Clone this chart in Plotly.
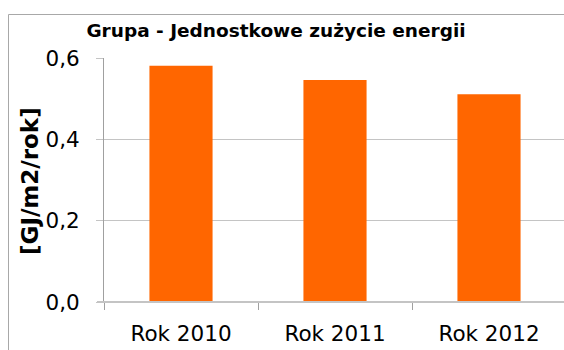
import plotly.graph_objects as go

# Unit energy consumption of the group, per year
categories = ["Rok 2010", "Rok 2011", "Rok 2012"]
values = [0.581, 0.546, 0.511]
y_ticks = [0.0, 0.2, 0.4, 0.6]
y_tick_labels = ["0,0", "0,2", "0,4", "0,6"]

W, H = 564, 350
ML, MR, MT, MB = 104, 0, 58, 48
plot_w = W - ML - MR
plot_h = H - MT - MB


def px_to_paper_x(px):
    return (px - ML) / plot_w


def px_to_paper_y(py):
    return (H - MB - py) / plot_h


fig = go.Figure(
    go.Bar(
        x=categories,
        y=values,
        width=0.41,
        marker=dict(color="#FF6600", line=dict(width=0)),
    )
)

frame = dict(color="#a8a8a8", width=1)

fig.update_layout(
    width=W,
    height=H,
    margin=dict(l=ML, r=MR, t=MT, b=MB),
    paper_bgcolor="white",
    plot_bgcolor="white",
    showlegend=False,
    font=dict(family="DejaVu Sans", color="#000000"),
    title=dict(
        text="<b>Grupa - Jednostkowe zużycie energii</b>",
        font=dict(family="DejaVu Sans", size=18.5, color="#000000"),
        x=276 / W,
        xanchor="center",
        xref="container",
        y=1 - 31 / H,
        yanchor="middle",
        yref="container",
    ),
    xaxis=dict(
        range=[-0.5, -0.5 + plot_w / 154],
        showgrid=False,
        showline=False,
        zeroline=False,
        ticks="outside",
        tickson="boundaries",
        ticklen=7,
        tickcolor="#a0a0a0",
        tickfont=dict(size=21.5, family="DejaVu Sans", color="#000000"),
        ticklabelstandoff=16,
    ),
    yaxis=dict(
        range=[0, 0.6],
        tickvals=y_ticks,
        ticktext=y_tick_labels,
        showgrid=True,
        gridcolor="#c4c4c4",
        gridwidth=1,
        zeroline=False,
        showline=True,
        linecolor="#a0a0a0",
        linewidth=1,
        ticks="outside",
        ticklen=7,
        tickcolor="#c4c4c4",
        tickfont=dict(size=21.5, family="DejaVu Sans", color="#000000"),
        ticklabelstandoff=12,
    ),
    annotations=[
        dict(
            text="<b>[GJ/m2/rok]</b>",
            textangle=-90,
            x=px_to_paper_x(30),
            y=px_to_paper_y(181),
            xref="paper",
            yref="paper",
            showarrow=False,
            xanchor="center",
            yanchor="middle",
            font=dict(family="DejaVu Sans", size=23, color="#000000"),
        )
    ],
    shapes=[
        # outer chart frame: top and left edges (the rest runs past the page)
        dict(
            type="line",
            xref="paper",
            yref="paper",
            x0=px_to_paper_x(8.5),
            x1=px_to_paper_x(580),
            y0=px_to_paper_y(14.5),
            y1=px_to_paper_y(14.5),
            line=frame,
            layer="below",
        ),
        dict(
            type="line",
            xref="paper",
            yref="paper",
            x0=px_to_paper_x(8.5),
            x1=px_to_paper_x(8.5),
            y0=px_to_paper_y(14.5),
            y1=px_to_paper_y(360),
            line=frame,
            layer="below",
        ),
        # category axis baseline
        dict(
            type="line",
            xref="paper",
            yref="paper",
            x0=px_to_paper_x(97),
            x1=1,
            y0=0,
            y1=0,
            line=dict(color="#c4c4c4", width=2),
            layer="above",
        ),
    ],
)

fig.write_html("out.html")
